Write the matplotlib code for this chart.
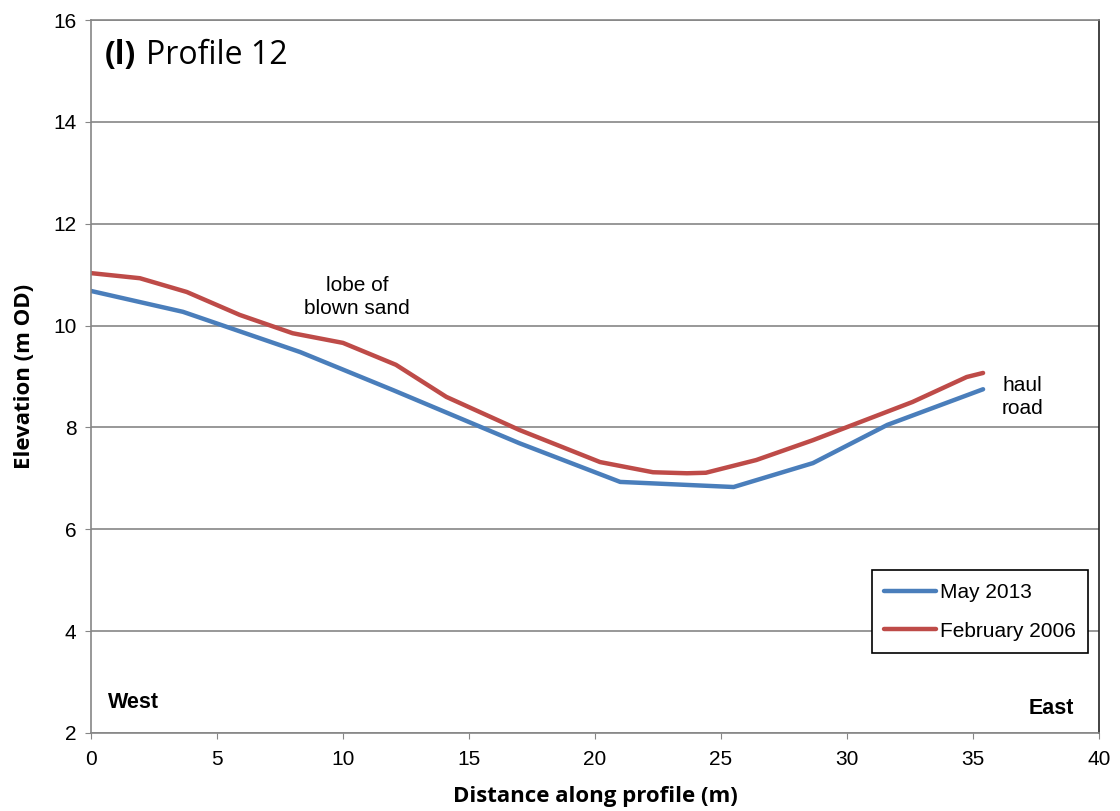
import matplotlib
matplotlib.use("Agg")
import matplotlib.pyplot as plt

# profile data
may_x = [0.0, 3.65, 8.3, 12.0, 17.0, 21.0, 25.5, 28.65, 31.6, 35.4]
may_y = [10.68, 10.27, 9.48, 8.73, 7.69, 6.93, 6.83, 7.30, 8.05, 8.75]

feb_x = [0.0, 1.94, 3.8, 5.9, 8.0, 10.0, 12.1, 14.1, 17.0, 20.2, 22.3, 23.65, 24.4, 26.4, 28.65, 32.6, 34.75, 35.4]
feb_y = [11.03, 10.93, 10.66, 10.21, 9.85, 9.66, 9.23, 8.60, 7.95, 7.32, 7.12, 7.10, 7.11, 7.36, 7.75, 8.50, 8.99, 9.07]

xticks = [0, 5, 10, 15, 20, 25, 30, 35, 40]
yticks = [2, 4, 6, 8, 10, 12, 14, 16]

fig = plt.figure(figsize=(11.2, 8.11), dpi=100)
ax = fig.add_axes([0.08125, 0.0962, 0.9, 0.8791])

ax.plot(may_x, may_y, color='#4A7EBB', lw=3.2, label='May 2013', solid_capstyle='round')
ax.plot(feb_x, feb_y, color='#BE4B48', lw=3.2, label='February 2006', solid_capstyle='round')

ax.set_xlim(0, 40)
ax.set_ylim(2, 16)
ax.set_xticks(xticks)
ax.set_yticks(yticks)
ax.yaxis.grid(True, color='#868686', lw=1.2)
ax.set_axisbelow(True)
for s in ax.spines.values():
    s.set_color('#868686')
    s.set_linewidth(1.2)
ax.spines['right'].set_color('#222222')
ax.tick_params(direction='out', length=4.5, color='#868686', labelsize=15,
               labelfontfamily='Liberation Sans')
ax.tick_params(axis='x', pad=8)
ax.tick_params(axis='y', pad=6)

ax.set_xlabel('Distance along profile (m)', fontsize=16, fontweight='bold',
              family='Open Sans', labelpad=12)
ax.set_ylabel('Elevation (m OD)', fontsize=16, fontweight='bold',
              family='Open Sans', labelpad=13)

ax.text(0.55, 15.3, '(l)', fontsize=23, fontweight='bold', family='Open Sans', va='center')
ax.text(2.2, 15.3, 'Profile 12', fontsize=23, family='Open Sans', va='center')

ax.text(10.55, 10.56, 'lobe of\nblown sand', fontsize=15, family='Liberation Sans',
        ha='center', va='center', linespacing=1.3)
ax.text(36.95, 8.6, 'haul\nroad', fontsize=15, family='Liberation Sans',
        ha='center', va='center', linespacing=1.3)
ax.text(1.67, 2.59, 'West', fontsize=15.5, fontweight='bold', family='Liberation Sans',
        ha='center', va='center')
ax.text(38.1, 2.49, 'East', fontsize=15.5, fontweight='bold', family='Liberation Sans',
        ha='center', va='center')

leg = ax.legend(loc='lower right', bbox_to_anchor=(0.989, 0.112), borderaxespad=0,
                fancybox=False, edgecolor='black', framealpha=1,
                prop={'family': 'Liberation Sans', 'size': 15},
                handlelength=2.5, handletextpad=0.15, labelspacing=0.95,
                borderpad=0.6)
leg.get_frame().set_linewidth(1.2)

fig.savefig('out.png', dpi=100)
